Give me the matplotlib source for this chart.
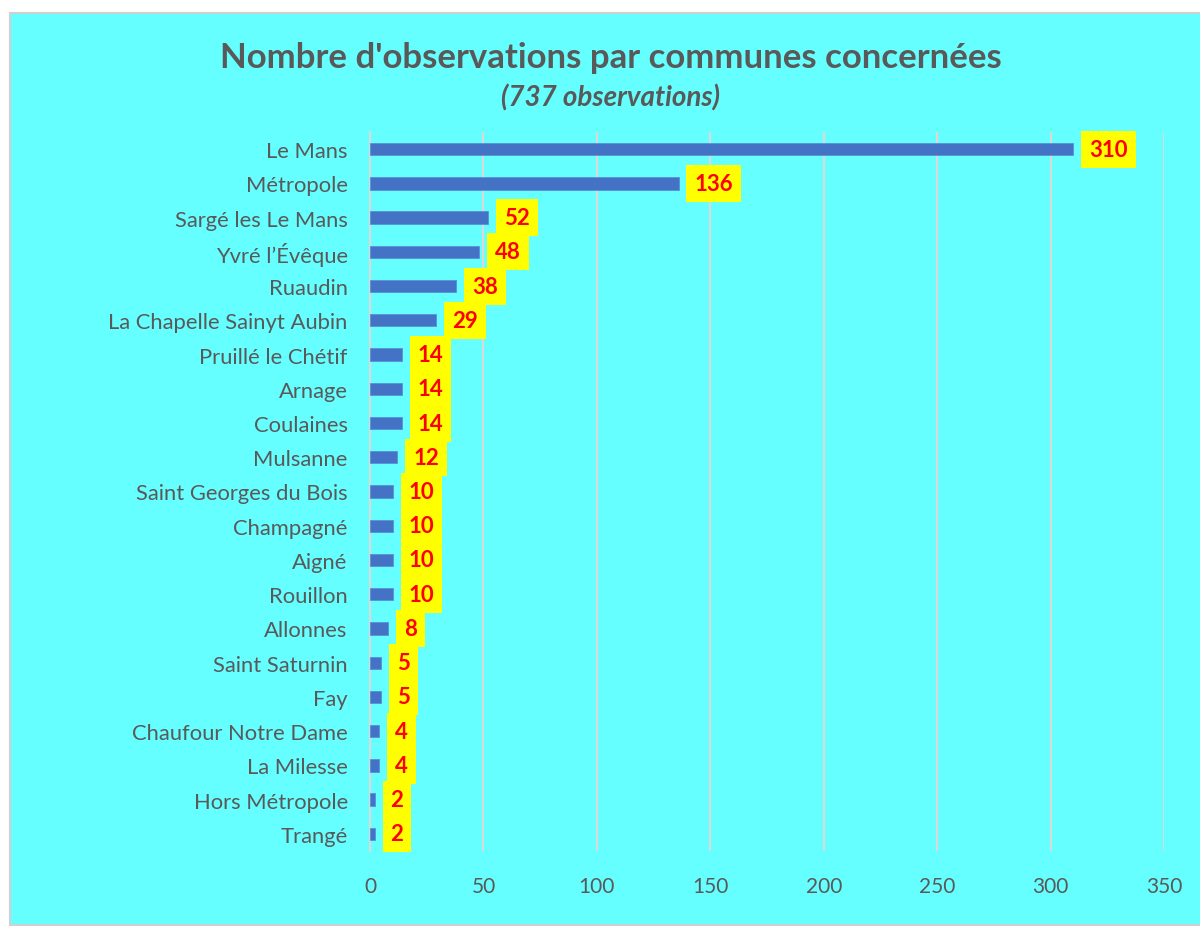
import matplotlib
matplotlib.use("Agg")
import matplotlib.pyplot as plt
from matplotlib.patches import Rectangle

plt.rcParams['font.family'] = ['Lato', 'DejaVu Sans']

communes = ["Le Mans", "Métropole", "Sargé les Le Mans", "Yvré l’Évêque", "Ruaudin",
            "La Chapelle Sainyt Aubin", "Pruillé le Chétif", "Arnage", "Coulaines",
            "Mulsanne", "Saint Georges du Bois", "Champagné", "Aigné", "Rouillon",
            "Allonnes", "Saint Saturnin", "Fay", "Chaufour Notre Dame", "La Milesse",
            "Hors Métropole", "Trangé"]
observations = [310, 136, 52, 48, 38, 29, 14, 14, 14, 12, 10, 10, 10, 10, 8, 5, 5, 4, 4, 2, 2]
xticks = [0, 50, 100, 150, 200, 250, 300, 350]

grey = "#595959"

fig = plt.figure(figsize=(12, 9.29), dpi=100, facecolor="white")
# cyan chart area with thin grey border, behind everything
fig.patches.append(Rectangle((10 / 1200, 0.003), 1.0, 1 - 14 / 929 - 0.003,
                             transform=fig.transFigure, facecolor="#66FFFF",
                             edgecolor="#D0D0D0", linewidth=1.5, zorder=-10))

ax = fig.add_axes([370 / 1200, 1 - 852 / 929, (1164 - 370) / 1200, (852 - 133) / 929])
ax.set_facecolor("none")

pos = list(range(len(communes)))
ax.barh(pos, observations, height=0.36, color="#4472C4", edgecolor="#5B8FD9",
        linewidth=0.6, zorder=3)

for p, v in zip(pos, observations):
    ax.annotate(str(v), xy=(v, p), xytext=(11.5, 0), textcoords="offset points",
                ha="left", va="center", fontsize=16, fontweight="bold", color="#FF0000",
                bbox=dict(boxstyle="square,pad=0.36", facecolor="#FFFF00", edgecolor="none"),
                zorder=4)

ax.set_xlim(0, 350)
ax.set_ylim(len(communes) - 0.5, -0.5)
ax.set_xticks(xticks)
ax.set_yticks(pos)
ax.set_yticklabels(communes)
ax.tick_params(axis="both", length=0, colors=grey)
ax.tick_params(axis="y", pad=16, labelsize=15.8)
ax.tick_params(axis="x", pad=18, labelsize=15)
ax.grid(axis="x", color="#D9D9D9", linewidth=1.5, zorder=1)
for s in ["top", "right", "bottom"]:
    ax.spines[s].set_visible(False)
ax.spines["left"].set_color("#D9D9D9")
ax.spines["left"].set_linewidth(1.5)

fig.text(0.509, 1 - 58 / 929, "Nombre d'observations par communes concernées",
         ha="center", va="center", fontsize=25, fontweight="bold", color=grey)
fig.text(0.509, 1 - 98 / 929, "(737 observations)", ha="center", va="center",
         fontsize=20, fontweight="bold", fontstyle="italic", color=grey)

fig.savefig("out.png", dpi=100, facecolor="white")
